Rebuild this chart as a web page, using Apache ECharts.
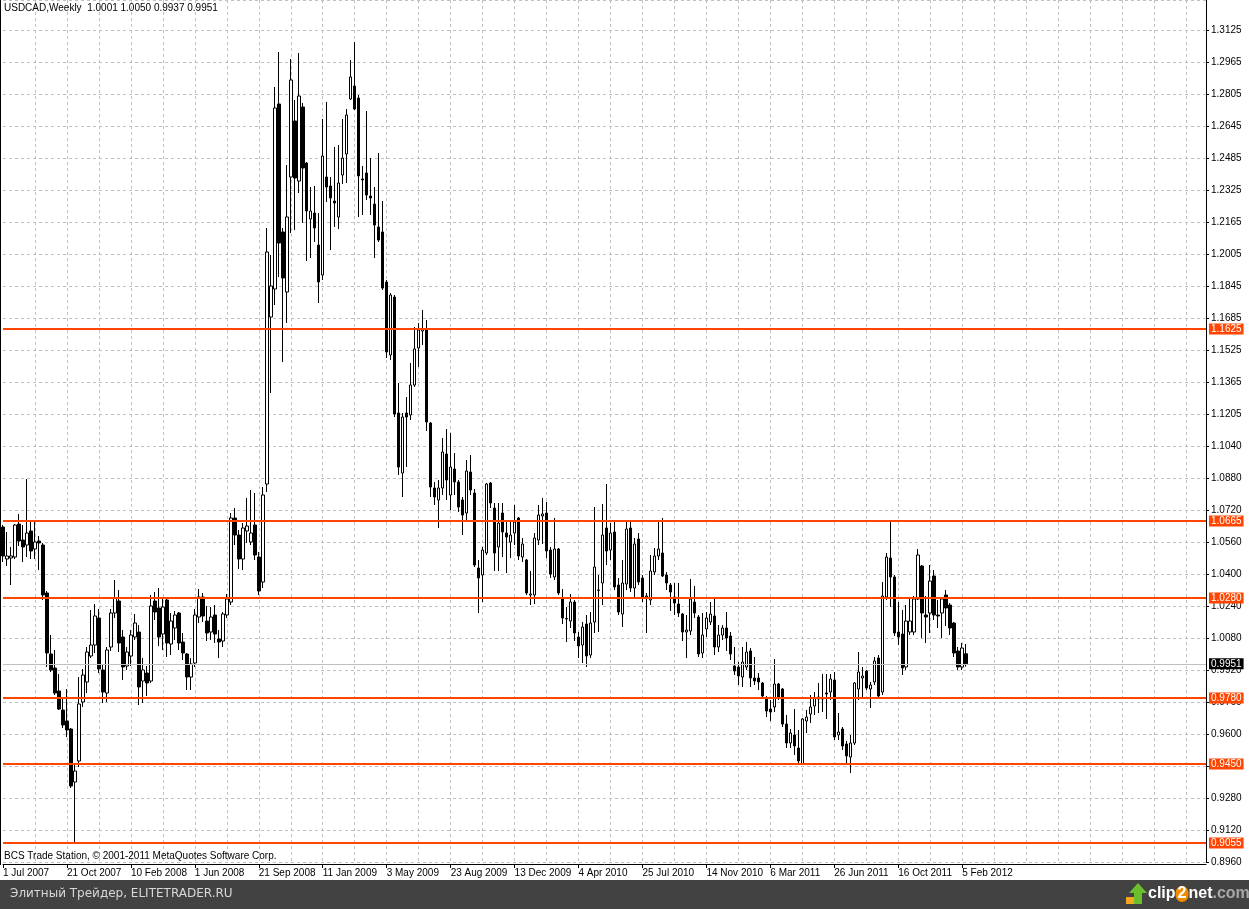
<!DOCTYPE html>
<html><head><meta charset="utf-8">
<script src="https://cdn.jsdelivr.net/npm/echarts@6/dist/echarts.min.js"></script>
<style>html,body{margin:0;padding:0;background:#fff}#c{width:1249px;height:909px}</style>
</head><body><div id="c"></div><script>
const symbolName = 'USDCAD,Weekly';
const startDate = '2007-07-01';
const totalSlots = 302;

const opens = [
1.0635,1.0475,1.0480,1.0485,1.0650,1.0570,1.0545,1.0615,1.0525,1.0565,
1.0545,1.0305,1.0000,0.9930,0.9815,0.9720,0.9665,0.9625,0.9360,0.9465,
0.9760,0.9860,0.9990,1.0045,1.0180,0.9920,0.9805,1.0035,1.0205,1.0265,
1.0085,0.9940,0.9990,1.0085,1.0110,0.9865,0.9905,0.9865,1.0265,1.0230,
1.0100,1.0270,1.0050,1.0130,1.0205,1.0060,1.0000,0.9885,0.9955,1.0185,
1.0285,1.0165,1.0110,1.0195,1.0075,1.0065,1.0195,1.0260,1.0680,1.0595,
1.0475,1.0615,1.0560,1.0645,1.0485,1.0360,1.0850,1.1685,1.1825,1.2750,
1.2110,1.1810,1.2385,1.2665,1.2365,1.2735,1.2455,1.2175,1.2205,1.2045,
1.1895,1.2385,1.2340,1.2265,1.2185,1.2395,1.2500,1.2775,1.2840,1.2780,
1.2375,1.2405,1.2290,1.2250,1.2135,1.2110,1.1860,1.1495,1.1785,1.1205,
1.0905,1.1205,1.1195,1.1345,1.1530,1.1615,1.1625,1.1155,1.0830,1.0770,
1.0830,1.1000,1.0795,1.0925,1.0860,1.0770,1.0705,1.0910,1.0805,1.0430,
1.0395,1.0505,1.0855,1.0730,1.0535,1.0705,1.0605,1.0560,1.0605,1.0680,
1.0485,1.0470,1.0295,1.0295,1.0570,1.0690,1.0705,1.0520,1.0385,1.0525,
1.0275,1.0178,1.0165,1.0260,1.0085,1.0045,1.0150,0.9995,1.0160,1.0318,
1.0355,1.0630,1.0520,1.0610,1.0345,1.0200,1.0350,1.0630,1.0330,1.0575,
1.0380,1.0285,1.0270,1.0410,1.0490,1.0505,1.0395,1.0345,1.0285,1.0250,
1.0200,1.0110,1.0115,1.0260,1.0185,1.0005,1.0125,1.0160,1.0190,1.0035,
1.0095,1.0130,1.0090,0.9940,0.9935,0.9885,0.9935,1.0015,0.9880,0.9880,
0.9855,0.9780,0.9725,0.9735,0.9850,0.9825,0.9650,0.9555,0.9595,0.9530,
0.9450,0.9665,0.9700,0.9740,0.9775,0.9775,0.9805,0.9810,0.9870,0.9595,
0.9625,0.9550,0.9485,0.9555,0.9825,0.9880,0.9915,0.9825,0.9860,0.9980,
0.9810,1.0285,1.0480,1.0385,1.0110,1.0100,0.9935,1.0110,1.0110,1.0275,
1.0440,1.0195,1.0205,1.0390,1.0195,1.0205,1.0295,1.0245,1.0155,1.0015,
0.9935,1.0001];

const highs = [
1.0645,1.0610,1.0535,1.0650,1.0700,1.0645,1.0875,1.0670,1.0670,1.0590,
1.0555,1.0315,1.0095,1.0020,0.9900,0.9785,0.9825,0.9630,0.9445,0.9885,
0.9925,1.0035,1.0220,1.0250,1.0225,0.9945,1.0035,1.0225,1.0370,1.0320,
1.0120,1.0035,1.0120,1.0200,1.0145,0.9980,0.9940,1.0295,1.0310,1.0330,
1.0280,1.0285,1.0205,1.0215,1.0210,1.0105,1.0005,0.9980,1.0225,1.0325,
1.0305,1.0240,1.0235,1.0245,1.0120,1.0210,1.0300,1.0705,1.0730,1.0620,
1.0655,1.0780,1.0820,1.0805,1.0510,1.0835,1.2130,1.1995,1.2835,1.3010,
1.2130,1.2445,1.2975,1.2770,1.3005,1.2755,1.2460,1.2335,1.2340,1.2205,
1.2675,1.2760,1.2385,1.2535,1.2545,1.2675,1.2725,1.2970,1.3060,1.2795,
1.2440,1.2715,1.2480,1.2335,1.2505,1.2265,1.1870,1.1805,1.1795,1.1355,
1.1205,1.1285,1.1455,1.1635,1.1655,1.1720,1.1670,1.1160,1.0860,1.0870,
1.1080,1.1125,1.1105,1.1005,1.0870,1.0785,1.0970,1.0995,1.0825,1.0470,
1.0535,1.0855,1.0860,1.0755,1.0755,1.0755,1.0660,1.0660,1.0745,1.0685,
1.0580,1.0475,1.0415,1.0605,1.0745,1.0780,1.0760,1.0535,1.0680,1.0530,
1.0325,1.0235,1.0300,1.0270,1.0110,1.0160,1.0195,1.0210,1.0735,1.0395,
1.0750,1.0850,1.0655,1.0670,1.0380,1.0470,1.0660,1.0665,1.0580,1.0605,
1.0395,1.0305,1.0495,1.0530,1.0670,1.0680,1.0410,1.0355,1.0355,1.0355,
1.0205,1.0195,1.0375,1.0340,1.0195,1.0205,1.0210,1.0260,1.0280,1.0145,
1.0145,1.0210,1.0110,1.0035,0.9960,1.0035,1.0060,1.0030,0.9985,0.9905,
0.9860,0.9790,0.9770,0.9975,0.9855,0.9830,0.9695,0.9625,0.9725,0.9620,
0.9680,0.9720,0.9795,0.9810,0.9855,0.9900,0.9900,0.9900,0.9910,0.9705,
0.9635,0.9565,0.9595,0.9860,1.0010,0.9935,0.9920,0.9860,0.9985,0.9995,
1.0360,1.0505,1.0660,1.0395,1.0260,1.0220,1.0245,1.0275,1.0290,1.0525,
1.0445,1.0290,1.0445,1.0420,1.0270,1.0285,1.0320,1.0255,1.0160,1.0035,
1.0055,1.0050];

const lows = [
1.0460,1.0440,1.0345,1.0475,1.0540,1.0460,1.0485,1.0475,1.0475,1.0420,
1.0270,0.9935,0.9910,0.9795,0.9720,0.9630,0.9585,0.9330,0.9060,0.9435,
0.9735,0.9805,0.9980,1.0005,0.9905,0.9755,0.9760,1.0015,1.0180,1.0010,
0.9870,0.9920,0.9940,1.0070,0.9745,0.9755,0.9790,0.9855,1.0170,1.0040,
1.0020,0.9985,0.9995,1.0070,1.0020,0.9970,0.9820,0.9820,0.9935,1.0155,
1.0160,1.0065,1.0070,1.0055,0.9980,1.0035,1.0180,1.0245,1.0545,1.0425,
1.0420,1.0555,1.0545,1.0470,1.0295,1.0330,1.0810,1.1305,1.1745,1.1885,
1.1460,1.1655,1.2105,1.2120,1.2305,1.2155,1.1965,1.1980,1.2060,1.1755,
1.1870,1.2260,1.2020,1.2135,1.2125,1.2350,1.2355,1.2770,1.2720,1.2185,
1.2195,1.2270,1.2195,1.1980,1.2060,1.1820,1.1480,1.1470,1.1185,1.0895,
1.0785,1.0935,1.1170,1.1335,1.1435,1.1545,1.1115,1.0785,1.0745,1.0630,
1.0795,1.0770,1.0720,1.0795,1.0710,1.0595,1.0660,1.0795,1.0435,1.0205,
1.0260,1.0495,1.0730,1.0415,1.0415,1.0485,1.0405,1.0480,1.0545,1.0470,
1.0460,1.0295,1.0245,1.0250,1.0545,1.0550,1.0480,1.0380,1.0370,1.0295,
1.0150,1.0060,1.0130,1.0065,0.9980,0.9955,0.9935,0.9980,1.0105,1.0110,
1.0245,1.0445,1.0470,1.0320,1.0195,1.0135,1.0320,1.0310,1.0280,1.0345,
1.0260,1.0105,1.0245,1.0395,1.0470,1.0385,1.0320,1.0215,1.0195,1.0185,
1.0065,0.9980,1.0095,1.0180,0.9985,0.9980,1.0085,1.0145,0.9995,1.0010,
1.0070,1.0015,0.9970,0.9895,0.9845,0.9835,0.9920,0.9835,0.9845,0.9820,
0.9780,0.9685,0.9665,0.9710,0.9770,0.9635,0.9530,0.9530,0.9495,0.9455,
0.9445,0.9605,0.9655,0.9695,0.9705,0.9710,0.9675,0.9770,0.9570,0.9570,
0.9520,0.9445,0.9405,0.9545,0.9770,0.9785,0.9820,0.9730,0.9845,0.9785,
0.9795,1.0270,1.0235,1.0090,1.0045,0.9895,0.9920,1.0095,1.0095,1.0270,
1.0080,1.0055,1.0105,1.0170,1.0130,1.0080,1.0140,1.0095,0.9985,0.9920,
0.9920,0.9937];

const closes = [
1.0490,1.0490,1.0490,1.0645,1.0565,1.0535,1.0605,1.0515,1.0560,1.0555,
1.0295,1.0005,0.9920,0.9805,0.9725,0.9645,0.9620,0.9340,0.9415,0.9750,
0.9895,1.0010,1.0045,1.0190,0.9925,0.9810,1.0020,1.0205,1.0280,1.0055,
0.9935,1.0010,1.0095,1.0155,0.9835,0.9920,0.9855,1.0240,1.0210,1.0085,
1.0235,1.0055,1.0165,1.0195,1.0055,1.0005,0.9885,0.9950,1.0195,1.0285,
1.0190,1.0105,1.0185,1.0100,1.0060,1.0200,1.0275,1.0680,1.0595,1.0475,
1.0630,1.0640,1.0605,1.0495,1.0315,1.0795,1.2010,1.1840,1.2730,1.2055,
1.1880,1.2185,1.2870,1.2380,1.2790,1.2430,1.2215,1.2215,1.2130,1.1860,
1.2490,1.2335,1.2280,1.2255,1.2355,1.2480,1.2695,1.2885,1.2725,1.2390,
1.2370,1.2295,1.2280,1.2145,1.2070,1.1830,1.1510,1.1795,1.1200,1.0935,
1.1185,1.1185,1.1345,1.1525,1.1620,1.1625,1.1160,1.0835,1.0785,1.0830,
1.1010,1.0870,1.0935,1.0860,1.0735,1.0695,1.0915,1.0820,1.0445,1.0380,
1.0520,1.0850,1.0755,1.0505,1.0655,1.0610,1.0585,1.0595,1.0660,1.0490,
1.0550,1.0305,1.0300,1.0580,1.0695,1.0700,1.0515,1.0400,1.0525,1.0305,
1.0180,1.0175,1.0260,1.0105,1.0040,1.0135,0.9990,1.0155,1.0435,1.0320,
1.0595,1.0515,1.0605,1.0335,1.0210,1.0355,1.0625,1.0330,1.0550,1.0360,
1.0285,1.0290,1.0415,1.0490,1.0525,1.0390,1.0355,1.0310,1.0255,1.0205,
1.0110,1.0120,1.0275,1.0205,1.0000,1.0095,1.0180,1.0200,1.0035,1.0095,
1.0130,1.0080,1.0000,0.9915,0.9890,0.9960,1.0010,0.9880,0.9865,0.9860,
0.9790,0.9715,0.9710,0.9850,0.9785,0.9650,0.9555,0.9605,0.9540,0.9465,
0.9675,0.9685,0.9735,0.9780,0.9785,0.9780,0.9800,0.9875,0.9585,0.9610,
0.9540,0.9490,0.9555,0.9855,0.9910,0.9890,0.9830,0.9845,0.9965,0.9790,
1.0290,1.0485,1.0385,1.0105,1.0085,0.9930,1.0165,1.0165,1.0275,1.0495,
1.0205,1.0185,1.0365,1.0195,1.0190,1.0275,1.0230,1.0130,1.0005,0.9935,
1.0030,0.9951];

const xTickLabels = ['1 Jul 2007','21 Oct 2007','10 Feb 2008','1 Jun 2008','21 Sep 2008','11 Jan 2009','3 May 2009','23 Aug 2009','13 Dec 2009','4 Apr 2010','25 Jul 2010','14 Nov 2010','6 Mar 2011','26 Jun 2011','16 Oct 2011','5 Feb 2012'];
const yTickLabels = ['0.8960','0.9120','0.9280','0.9440','0.9600','0.9760','0.9920','1.0080','1.0240','1.0400','1.0560','1.0720','1.0880','1.1040','1.1205','1.1365','1.1525','1.1685','1.1845','1.2005','1.2165','1.2325','1.2485','1.2645','1.2805','1.2965','1.3125'];
const levels = [1.1625, 1.0665, 1.0280, 0.9780, 0.9450, 0.9055];
const bidPrice = 0.9951;
const footerText = 'BCS Trade Station, \u00a9 2001-2011 MetaQuotes Software Corp.';
const bannerText = 'Элитный Трейдер, ELITETRADER.RU';

const Y_MIN = 0.896, Y_MAX = 1.327, Y_STEP = 0.016;
const FONT = 'Liberation Sans';

const cats = [];
const d0 = new Date(startDate + 'T00:00:00Z').getTime();
for (let i = 0; i < totalSlots; i++) cats.push(new Date(d0 + i * 7 * 86400000).toISOString().slice(0, 10));
const ohlc = opens.map((o, i) => [o, closes[i], lows[i], highs[i]]);
const last = opens.length - 1;
const header = symbolName + '  ' + [opens[last], highs[last], lows[last], closes[last]].map(v => v.toFixed(4)).join(' ');

const showTick = (i) => i % 16 === 0 && i / 16 < xTickLabels.length;

const tagLabel = (bg) => ({
  show: true, position: 'end', distance: 3,
  color: '#fff', backgroundColor: bg, fontFamily: FONT, fontSize: 10,
  padding: [1, 2, 0, 2], lineHeight: 10
});

const markData = levels.map(v => ({
  yAxis: v,
  lineStyle: { color: '#ff4500', width: 2, type: 'solid' },
  label: Object.assign(tagLabel('#ff4500'), { formatter: v.toFixed(4) })
}));
markData.unshift({
  yAxis: bidPrice,
  lineStyle: { color: '#c0c0c0', width: 1, type: 'solid' },
  label: Object.assign(tagLabel('#000'), { formatter: bidPrice.toFixed(4) })
});

const chart = echarts.init(document.getElementById('c'), null, { renderer: 'canvas' });
chart.setOption({
  animation: false,
  backgroundColor: '#fff',
  grid: { left: 1.5, right: 43, top: 0, bottom: 47, containLabel: false },
  xAxis: {
    type: 'category', data: cats, boundaryGap: false, offset: 2,
    axisLine: { show: true, lineStyle: { color: '#000', width: 1 } },
    axisTick: { show: true, interval: showTick, length: 4, lineStyle: { color: '#000' } },
    axisLabel: {
      interval: showTick, formatter: (v, i) => xTickLabels[i / 16] || '',
      align: 'left', margin: 4, color: '#000', fontFamily: FONT, fontSize: 10
    },
    splitLine: { show: true, interval: (i) => i % 8 === 0 && i > 0, lineStyle: { color: '#c0c0c0', type: [3, 3], width: 1 } }
  },
  yAxis: {
    type: 'value', position: 'right', min: Y_MIN, max: Y_MAX, interval: Y_STEP,
    axisLine: { show: true, lineStyle: { color: '#000', width: 1 } },
    axisTick: { show: true, length: 3, lineStyle: { color: '#000' } },
    axisLabel: {
      showMaxLabel: false, margin: 5, color: '#000', fontFamily: FONT, fontSize: 10,
      formatter: (v) => {
        const k = Math.round((v - Y_MIN) / Y_STEP);
        if (Math.abs(v - (Y_MIN + k * Y_STEP)) > 1e-6) return '';
        return yTickLabels[k] || '';
      }
    },
    splitLine: { show: true, lineStyle: { color: '#c0c0c0', type: [3, 3], width: 1 } }
  },
  series: [{
    type: 'candlestick', data: ohlc, barWidth: 3,
    itemStyle: { color: '#fff', color0: '#000', borderColor: '#000', borderColor0: '#000', borderWidth: 1 },
    markLine: { symbol: ['none', 'none'], silent: true, animation: false, precision: 4, data: markData }
  }],
  graphic: [
    { type: 'rect', shape: { x: 0, y: 0, width: 1, height: 865 }, style: { fill: '#000' }, z: 10 },
    { type: 'text', x: 4, y: 8, style: { text: header, fill: '#000', fontFamily: FONT, fontSize: 10, verticalAlign: 'middle' }, z: 10 },
    { type: 'text', x: 4, y: 856, style: { text: footerText, fill: '#000', fontFamily: FONT, fontSize: 10, verticalAlign: 'middle' }, z: 10 },
    { type: 'rect', shape: { x: 0, y: 880, width: 1249, height: 29 }, style: { fill: '#424242' }, z: 10 },
    { type: 'text', x: 10, y: 894, style: { text: bannerText, fill: '#d8d8d8', fontFamily: 'DejaVu Sans', fontSize: 12, verticalAlign: 'middle' }, z: 11 },
    { type: 'rect', shape: { x: 1126, y: 897, width: 9, height: 7 }, style: { fill: '#f2a81d' }, z: 11 },
    { type: 'polygon', shape: { points: [[1138, 883], [1129, 893], [1134, 893], [1134, 904], [1142, 904], [1142, 893], [1147, 893]] }, style: { fill: '#6cbf2c' }, z: 12 },
    { type: 'text', x: 1148, y: 894, z: 12, style: {
      text: '{a|clip}{b|2}{a|net}{c|.com}', verticalAlign: 'middle',
      rich: {
        a: { fill: '#ffffff', fontFamily: FONT, fontSize: 16, fontWeight: 'bold' },
        b: { fill: '#ffffff', fontFamily: FONT, fontSize: 16, fontWeight: 'bold', backgroundColor: '#f08c00', borderRadius: 8, padding: [0, 2] },
        c: { fill: '#a8a8a8', fontFamily: FONT, fontSize: 16, fontWeight: 'bold' }
      } } }
  ]
});
</script></body></html>
